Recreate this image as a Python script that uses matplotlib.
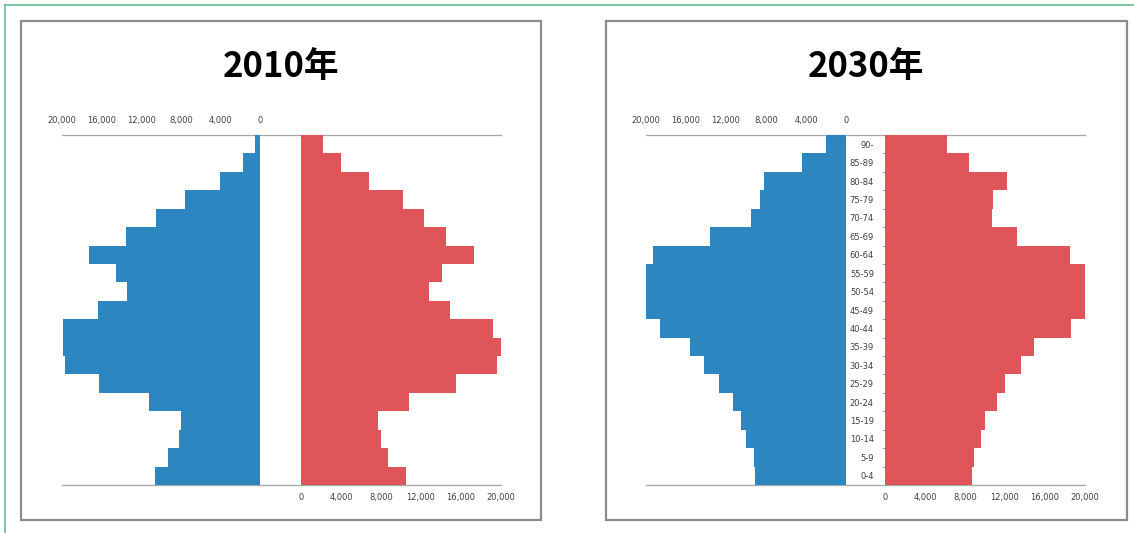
import matplotlib
matplotlib.use("Agg")
import matplotlib.pyplot as plt
import numpy as np
from matplotlib.lines import Line2D
from matplotlib.patches import Rectangle

W, H = 1134, 533

# age groups, youngest first (bottom of the pyramid)
ages = ["0-4", "5-9", "10-14", "15-19", "20-24", "25-29", "30-34", "35-39",
        "40-44", "45-49", "50-54", "55-59", "60-64", "65-69", "70-74",
        "75-79", "80-84", "85-89", "90-"]

male_2010 = [10600, 9300, 8200, 8000, 11200, 16300, 19700, 19900, 19900, 16400,
             13400, 14500, 17300, 13500, 10500, 7600, 4000, 1700, 500]
female_2010 = [10500, 8700, 8000, 7700, 10800, 15500, 19600, 20000, 19200, 14900,
               12800, 14100, 17300, 14500, 12300, 10200, 6800, 4000, 2200]

male_2030 = [9100, 9200, 10000, 10500, 11300, 12700, 14200, 15600, 18600, 20000,
             20000, 20000, 19300, 13600, 9500, 8600, 8200, 4400, 2000]
female_2030 = [8700, 8900, 9600, 10000, 11200, 12000, 13600, 14900, 18600, 20000,
               20000, 20000, 18500, 13200, 10700, 10800, 12200, 8400, 6200]

value_ticks = [0, 4000, 8000, 12000, 16000, 20000]

BLUE = "#2e86c1"
RED = "#e0555a"
GRID = "#a6a6a6"
TEXT = "#404040"
BOX = "#8c8c8c"


def px_axes(fig, x0, y0, x1, y1):
    """Add axes from pixel coords (origin top-left)."""
    return fig.add_axes([x0 / W, 1 - y1 / H, (x1 - x0) / W, (y1 - y0) / H])


def style_value_axis(ax, grid_at, top):
    ax.set_xticks(value_ticks)
    ax.set_xticklabels([f"{v:,}" for v in value_ticks])
    ax.set_xticks(grid_at, minor=True)
    if top:
        ax.xaxis.tick_top()
        ax.tick_params(axis="x", which="major", length=0, pad=7.5)
        ax.tick_params(axis="x", which="minor", top=True, bottom=False)
    else:
        ax.tick_params(axis="x", which="major", length=0, pad=6)
        ax.tick_params(axis="x", which="minor", top=False, bottom=True)
    ax.tick_params(axis="x", which="major", labelsize=6, labelcolor=TEXT)
    ax.tick_params(axis="x", which="minor", length=2.2, width=0.75, color=GRID)
    ax.grid(True, which="minor", axis="x", color=GRID, linewidth=0.75)
    ax.set_axisbelow(True)
    ax.set_ylim(-0.5, len(ages) - 0.5)
    for s in ax.spines.values():
        s.set_visible(False)
    ax.set_facecolor("none")


def draw_pyramid(fig, box, title_xy, male_x, female_x, male, female,
                 grid_male, grid_female, show_ages):
    bx0, by0, bx1, by1 = box
    fig.add_artist(Rectangle((bx0 / W, 1 - by1 / H), (bx1 - bx0) / W, (by1 - by0) / H,
                             transform=fig.transFigure, fill=False,
                             edgecolor=BOX, linewidth=1.6))
    fig.text(title_xy[0] / W, 1 - title_xy[1] / H, title, ha="center", va="center",
             fontsize=25, fontweight="bold", family=["Noto Sans CJK JP", "DejaVu Sans"])

    y = np.arange(len(ages))
    top, bottom = 135, 485

    # frame lines across the whole pyramid
    frame = px_axes(fig, male_x[0], top, female_x[1], bottom)
    frame.set_xticks([])
    frame.set_yticks([])
    frame.spines["left"].set_visible(False)
    frame.spines["right"].set_visible(False)
    for side in ("top", "bottom"):
        frame.spines[side].set_color(GRID)
        frame.spines[side].set_linewidth(0.9)
    frame.set_facecolor("none")

    ax_m = px_axes(fig, male_x[0], top, male_x[1], bottom)
    ax_m.barh(y, male, height=1.0, color=BLUE, linewidth=0)
    ax_m.set_xlim(20000, 0)
    ax_m.set_yticks([])
    style_value_axis(ax_m, grid_male, top=True)

    ax_f = px_axes(fig, female_x[0], top, female_x[1], bottom)
    ax_f.barh(y, female, height=1.0, color=RED, linewidth=0)
    ax_f.set_xlim(0, 20000)
    style_value_axis(ax_f, grid_female, top=False)
    if show_ages:
        ax_f.set_yticks(y)
        ax_f.set_yticklabels(ages)
        ax_f.set_yticks(np.arange(0.5, len(ages) - 1), minor=True)
        ax_f.tick_params(axis="y", which="major", length=0, pad=8,
                         labelsize=6, labelcolor=TEXT)
        ax_f.tick_params(axis="y", which="minor", length=2.5, width=0.75, color=GRID)
    else:
        ax_f.set_yticks([])


fig = plt.figure(figsize=(W / 100, H / 100), dpi=100)

# outer green frame
fig.add_artist(Line2D([5 / W, 1], [1 - 5 / H, 1 - 5 / H], transform=fig.transFigure,
                      color="#6cc79a", linewidth=1.3))
fig.add_artist(Line2D([5 / W, 5 / W], [0, 1 - 5 / H], transform=fig.transFigure,
                      color="#6cc79a", linewidth=1.3))

title = "2010年"
draw_pyramid(fig, (21, 21, 541, 520), (281, 67), (62, 260), (301, 501),
             male_2010, female_2010,
             [0, 4000, 12000, 16000], [0, 4000, 8000, 12000, 16000], False)

title = "2030年"
draw_pyramid(fig, (606, 21, 1127, 520), (866, 67), (646, 846), (885, 1085),
             male_2030, female_2030,
             [0, 4000, 12000, 16000], [0, 4000, 12000, 16000, 20000], True)

fig.savefig("out.png", dpi=100)
